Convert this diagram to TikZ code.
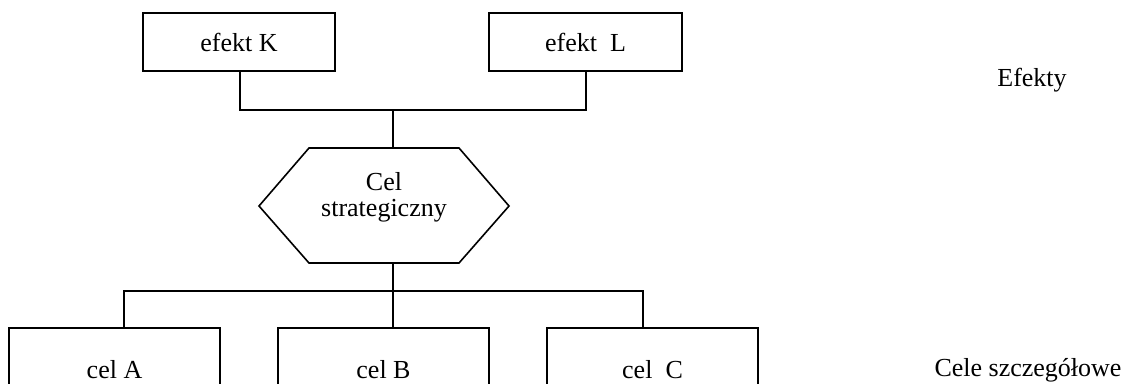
\documentclass[tikz,border=0pt]{standalone}
\usepackage{fontspec}
\setmainfont{Liberation Serif}
\begin{document}
\begin{tikzpicture}[x=1pt,y=-1pt,
  txt/.style={font=\fontsize{26}{26}\selectfont, inner sep=0pt, align=center},
  box/.style={txt, draw, line width=1.2pt, rectangle},
  conn/.style={line width=1.8pt},
  hexline/.style={line width=1.6pt, line join=miter}]
\useasboundingbox (0,0) rectangle (1126,383);
\clip (0,0) rectangle (1126,383);
% top effect boxes
\node[box, minimum width=192pt, minimum height=58pt] (K) at (239,42) {efekt K};
\node[box, minimum width=193pt, minimum height=58pt] (L) at (585.5,42) {efekt~~L};
% hexagon
\coordinate (hT) at (393,148);
\coordinate (hB) at (393,263);
\draw[hexline] (309,148) -- (459,148) -- (509,206) -- (459,263) -- (309,263) -- (259,206) -- cycle;
\node[txt] (S) at (384,197) {Cel\\strategiczny};
% bottom goal boxes
\node[box, minimum width=211pt, minimum height=84pt] (A) at (114.5,370) {cel A};
\node[box, minimum width=211pt, minimum height=84pt] (B) at (383.5,370) {cel B};
\node[box, minimum width=211pt, minimum height=84pt] (C) at (652.5,370) {cel~~C};
% side labels
\node[txt] (E) at (1032,80) {Efekty};
\node[txt] (CS) at (1028,370) {Cele szczegółowe};
% connectors top
\coordinate (busT) at (393,110);
\draw[conn] ([xshift=1pt]K.south) |- (busT);
\draw[conn] ([xshift=0.5pt]L.south) |- (busT);
\draw[conn] (busT) -- (hT);
% connectors bottom
\coordinate (busB) at (393,291);
\draw[conn] (hB) -- (B.north -| busB);
\draw[conn] ([xshift=9.5pt]A.north) |- (busB);
\draw[conn] ([xshift=-9.5pt]C.north) |- (busB);
\end{tikzpicture}
\end{document}
